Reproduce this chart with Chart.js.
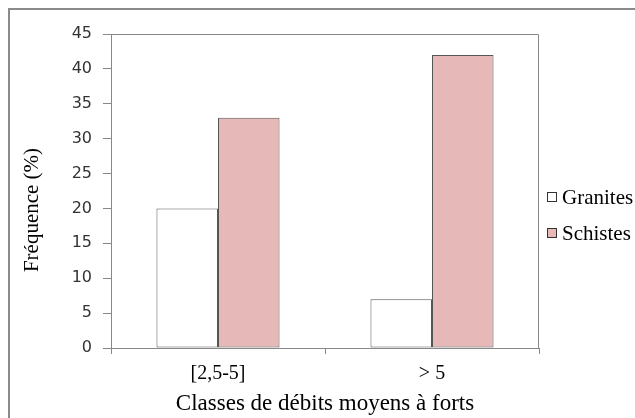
<!DOCTYPE html>
<html>
<head>
<meta charset="utf-8">
<script src="https://cdn.jsdelivr.net/npm/chart.js@4"></script>
<style>
  body { margin: 0; background: #fff; }
  #frame { position: absolute; left: 8px; top: 8px; width: 700px; height: 500px;
           border-left: 2px solid #8a8a8a; border-top: 2px solid #8a8a8a; }
  #wrap { position: absolute; left: 0; top: 0; width: 635px; height: 418px; }
</style>
</head>
<body>
<div id="frame"></div>
<div id="wrap"><canvas id="freqChart"></canvas></div>
<script>
// data
const classes = ['[2,5-5]', '> 5'];
const granites = [20, 7];
const schistes = [33, 42];
const yTicks = [0, 5, 10, 15, 20, 25, 30, 35, 40, 45];

const serif = "'Liberation Serif', 'Times New Roman', serif";

// plot area box (top + right lines) and y title
const framePlugin = {
    id: 'framePlugin',
    afterDraw(chart) {
        const a = chart.chartArea;
        const ctx = chart.ctx;
        ctx.save();
        ctx.strokeStyle = '#888';
        ctx.lineWidth = 1;
        ctx.beginPath();
        ctx.moveTo(a.left, a.top + 0.5);
        ctx.lineTo(a.right - 0.5, a.top + 0.5);
        ctx.lineTo(a.right - 0.5, a.bottom);
        ctx.stroke();

        // y axis title
        ctx.translate(32, 210);
        ctx.rotate(-Math.PI / 2);
        ctx.fillStyle = '#000';
        ctx.font = '21px ' + serif;
        ctx.textAlign = 'center';
        ctx.textBaseline = 'middle';
        ctx.fillText('Fréquence (%)', 0, 0);
        ctx.restore();
    }
};

// legend on the right
const legendPlugin = {
    id: 'legendPlugin',
    afterDraw(chart) {
        const ctx = chart.ctx;
        const ys = [197, 233];
        ctx.save();
        ctx.font = '21px ' + serif;
        ctx.textBaseline = 'middle';
        chart.data.datasets.forEach(function (ds, i) {
            ctx.fillStyle = ds.backgroundColor;
            ctx.fillRect(547, ys[i] - 5, 10, 10);
            ctx.strokeStyle = '#333';
            ctx.lineWidth = 1;
            ctx.strokeRect(547.5, ys[i] - 4.5, 9, 9);
            ctx.fillStyle = '#000';
            ctx.fillText(ds.label, 562, ys[i] + 1);
        });
        ctx.restore();
    }
};

const ctx = document.getElementById('freqChart').getContext('2d');
new Chart(ctx, {
    type: 'bar',
    data: {
        labels: classes,
        datasets: [
            {
                label: 'Granites',
                data: granites,
                backgroundColor: '#ffffff',
                borderColor: '#555555',
                borderWidth: 1,
                borderSkipped: false,
                categoryPercentage: 0.575,
                barPercentage: 1
            },
            {
                label: 'Schistes',
                data: schistes,
                backgroundColor: '#e6b8b7',
                borderColor: '#555555',
                borderWidth: 1,
                borderSkipped: false,
                categoryPercentage: 0.575,
                barPercentage: 1
            }
        ]
    },
    options: {
        responsive: true,
        maintainAspectRatio: false,
        animation: false,
        layout: {
            padding: { left: 0, top: 34, right: 96, bottom: 0 }
        },
        plugins: {
            legend: { display: false },
            tooltip: { enabled: false }
        },
        scales: {
            x: {
                grid: {
                    offset: true,
                    drawOnChartArea: false,
                    drawTicks: true,
                    tickLength: 6,
                    color: '#888'
                },
                border: { display: true, color: '#888' },
                ticks: {
                    color: '#000',
                    padding: 8,
                    font: { family: serif, size: 20 }
                },
                title: {
                    display: true,
                    text: 'Classes de débits moyens à forts',
                    color: '#000',
                    padding: { top: 0, bottom: 0 },
                    font: { family: serif, size: 23 }
                },
                afterFit(scale) { scale.height = 70; }
            },
            y: {
                min: 0,
                max: 45,
                afterBuildTicks(scale) {
                    scale.ticks = yTicks.map(v => ({ value: v }));
                },
                grid: {
                    drawOnChartArea: false,
                    drawTicks: true,
                    tickLength: 8,
                    color: '#888'
                },
                border: { display: true, color: '#888' },
                ticks: {
                    color: '#333',
                    padding: 11,
                    font: { family: "'DejaVu Sans', Verdana, sans-serif", size: 16 }
                },
                afterFit(scale) { scale.width = 111; }
            }
        }
    },
    plugins: [framePlugin, legendPlugin]
});
</script>
</body>
</html>
